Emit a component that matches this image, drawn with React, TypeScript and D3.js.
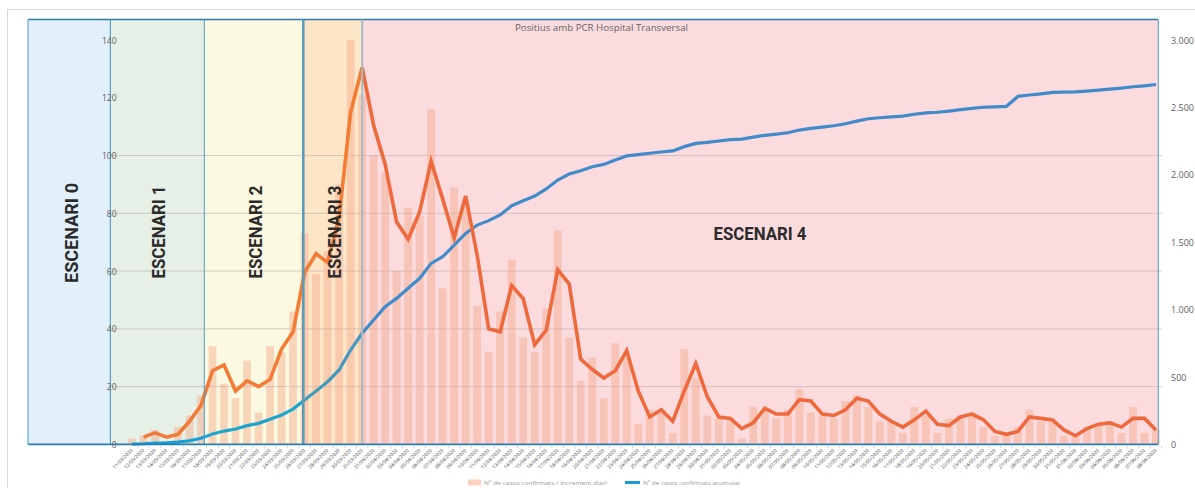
import React from "react";
import * as d3 from "d3";

// ---------- DATA ----------
const dateLabels: string[] = d3
  .timeDay.range(new Date(2020, 2, 11), new Date(2020, 5, 9))
  .map(d3.timeFormat("%d/%m/%Y"));

// Nº de casos confirmats / increment diari (bars, left axis)
const daily: number[] = [
  2, 3, 5, 1, 6, 10, 17, 34, 21, 16,
  29, 11, 34, 32, 46, 73, 59, 67, 90, 140,
  121, 100, 94, 60, 82, 79, 116, 54, 89, 83,
  48, 32, 46, 64, 37, 32, 47, 74, 37, 22,
  30, 16, 35, 30, 7, 12, 12, 4, 33, 23,
  10, 9, 9, 2, 13, 12, 9, 12, 19, 11,
  10, 9, 15, 17, 13, 8, 8, 4, 13, 10,
  4, 9, 10, 11, 6, 3, 4, 6, 12, 8,
  8, 3, 3, 6, 7, 8, 4, 13, 4, 5,
];

// 2-period moving-average trendline of the daily series (orange, left axis)
const trend: (number | null)[] = [
  null, 2.5, 4, 2.5, 3.5, 8, 13.5, 25.5, 27.5, 18.5,
  22, 20, 22.5, 33, 39, 59.5, 66, 63, 78.5, 115,
  130.5, 110.5, 97, 77, 71, 80.5, 98, 85, 71.5, 86,
  65.5, 40, 39, 55, 50.5, 34.5, 39.5, 60.5, 55.5, 29.5,
  26, 23, 25.5, 32.5, 18.5, 9.5, 12, 8, 18.5, 28,
  16.5, 9.5, 9, 5.5, 7.5, 12.5, 10.5, 10.5, 15.5, 15,
  10.5, 10, 12, 16, 15, 10.5, 8, 6, 8.5, 11.5,
  7, 6.5, 9.5, 10.5, 8.5, 4.5, 3.5, 4.5, 9.5, 9,
  8.5, 5, 3, 5.5, 7, 7.5, 6, 9, 9, 5,
];

// Nº de casos confirmats acumulat (blue line, right axis)
const cumulative: number[] = [
  2, 5, 10, 11, 17, 27, 45, 77, 99, 114,
  139, 156, 186, 218, 262, 330, 396, 465, 552, 700,
  824, 923, 1022, 1083, 1158, 1232, 1343, 1392, 1479, 1565,
  1627, 1660, 1702, 1771, 1808, 1842, 1895, 1961, 2006, 2030,
  2060, 2077, 2110, 2140, 2150, 2160, 2169, 2177, 2209, 2233,
  2241, 2251, 2261, 2265, 2280, 2293, 2302, 2312, 2332, 2344,
  2354, 2364, 2379, 2398, 2416, 2423, 2430, 2435, 2449, 2459,
  2464, 2473, 2483, 2493, 2501, 2504, 2508, 2582, 2592, 2601,
  2611, 2614, 2615, 2621, 2628, 2636, 2643, 2653, 2660, 2670,
];

const leftTicks: number[] = [0, 20, 40, 60, 80, 100, 120, 140];
const gridTicks: number[] = [20, 40, 60, 80, 100];
const rightTicks: number[] = [0, 500, 1000, 1500, 2000, 2500, 3000];

const scenarioNames: string[] = ["ESCENARI 0", "ESCENARI 1", "ESCENARI 2", "ESCENARI 3", "ESCENARI 4"];
const chartTitle = "Positius amb PCR Hospital Transversal";
const legendBars = "Nº de casos confirmats / increment diari";
const legendLine = "Nº de casos confirmats acumulat";

// ---------- LAYOUT ----------
const W = 1195;
const H = 488;
const PLOT_L = 110;
const PLOT_R = 1162;
const Y_TOP = 40;
const Y_BOT = 444.4;
const BOX_TOP = 19.5;
const boxEdges = [28, 110, 204, 303, 362, 1158];
const boxFills = ["#e1f0fa", "#e6f0e6", "#fbf9e1", "#fde6c7", "#fbdbdd"];
const labelPos = [
  { x: 71, y: 233, rot: true },
  { x: 158, y: 232, rot: true },
  { x: 255, y: 232, rot: true },
  { x: 334, y: 232, rot: true },
  { x: 760, y: 233, rot: false },
];

const fmtR = d3.formatLocale({ decimal: ",", thousands: ".", grouping: [3], currency: ["", "€"] }).format(",");

export default function App() {
  const x = d3.scalePoint<string>().domain(dateLabels).range([132, 1156]);
  const yL = d3.scaleLinear().domain([0, 140]).range([Y_BOT, Y_TOP]);
  const yR = d3.scaleLinear().domain([0, 3000]).range([Y_BOT, Y_TOP]);
  const step = x.step();
  const barW = 7.8;

  const trendLine = d3
    .line<number | null>()
    .defined((d) => d != null)
    .x((_, i) => x(dateLabels[i]) as number)
    .y((d) => yL(d as number));
  const cumLine = d3
    .line<number>()
    .x((_, i) => x(dateLabels[i]) as number)
    .y((d) => yR(d));

  const off = (px: number) => (px - PLOT_L) / (PLOT_R - PLOT_L);
  const font = "'Open Sans', 'Liberation Sans', Arial, sans-serif";

  return (
    <svg width={W} height={H} style={{ position: "absolute", left: 0, top: 0, background: "#fff" }} xmlns="http://www.w3.org/2000/svg">
      <defs>
        <linearGradient id="blueG" gradientUnits="userSpaceOnUse" x1={PLOT_L} x2={PLOT_R} y1={0} y2={0}>
          <stop offset={0} stopColor="#12a2d6" />
          <stop offset={off(204)} stopColor="#12a2d6" />
          <stop offset={off(204)} stopColor="#1ea5cf" />
          <stop offset={off(303)} stopColor="#1ea5cf" />
          <stop offset={off(303)} stopColor="#3f9dbb" />
          <stop offset={off(362)} stopColor="#4596c2" />
          <stop offset={off(362)} stopColor="#418bcb" />
          <stop offset={1} stopColor="#418bcb" />
        </linearGradient>
        <linearGradient id="orangeG" gradientUnits="userSpaceOnUse" x1={PLOT_L} x2={PLOT_R} y1={0} y2={0}>
          <stop offset={0} stopColor="#f27a3a" />
          <stop offset={off(362)} stopColor="#f47c32" />
          <stop offset={off(362)} stopColor="#ee6a3d" />
          <stop offset={1} stopColor="#ee6a3d" />
        </linearGradient>
      </defs>

      {/* outer chart frame */}
      <rect x={7.5} y={9.5} width={1250} height={600} fill="none" stroke="#d9d9d9" strokeWidth={1} />

      {/* scenario backgrounds */}
      {boxFills.map((f, i) => (
        <rect key={"bg" + i} x={boxEdges[i]} y={BOX_TOP} width={boxEdges[i + 1] - boxEdges[i]} height={Y_BOT - BOX_TOP} fill={f} />
      ))}

      {/* gridlines */}
      {gridTicks.map((t) => (
        <line key={"g" + t} x1={PLOT_L} x2={PLOT_R} y1={yL(t)} y2={yL(t)} stroke="#b8a8a8" strokeOpacity={0.55} strokeWidth={1} />
      ))}

      {/* bars */}
      {daily.map((v, i) => (
        <rect
          key={"b" + i}
          x={(x(dateLabels[i]) as number) - barW / 2}
          y={yL(v)}
          width={barW}
          height={Y_BOT - yL(v)}
          fill="#f5a98a"
          fillOpacity={0.45}
        />
      ))}

      {/* lines */}
      <path d={cumLine(cumulative) || ""} fill="none" stroke="url(#blueG)" strokeWidth={3.2} />
      <path d={trendLine(trend) || ""} fill="none" stroke="url(#orangeG)" strokeWidth={3.6} />

      {/* box borders */}
      <line x1={boxEdges[0]} x2={boxEdges[5]} y1={BOX_TOP} y2={BOX_TOP} stroke="#2f7aa5" strokeWidth={1.4} />
      <line x1={28} x2={28} y1={BOX_TOP} y2={Y_BOT} stroke="#4a9bc9" strokeWidth={1} />
      <line x1={110.3} x2={110.3} y1={BOX_TOP} y2={Y_BOT} stroke="#3f90c2" strokeWidth={1} />
      <line x1={204.3} x2={204.3} y1={BOX_TOP} y2={Y_BOT} stroke="#4a9bc9" strokeWidth={1} />
      <line x1={303.3} x2={303.3} y1={BOX_TOP} y2={Y_BOT} stroke="#5d9cb8" strokeWidth={2.6} />
      <line x1={362.2} x2={362.2} y1={BOX_TOP} y2={Y_BOT} stroke="#a3bccc" strokeWidth={2} />
      <line x1={1158.3} x2={1158.3} y1={BOX_TOP} y2={Y_BOT} stroke="#4a9bc9" strokeWidth={1} />

      {/* x axis */}
      <line x1={28} x2={1158.3} y1={Y_BOT} y2={Y_BOT} stroke="#2a7db2" strokeWidth={1.6} />
      {dateLabels.map((d, i) => (
        <line
          key={"t" + i}
          x1={(x(d) as number) + step / 2}
          x2={(x(d) as number) + step / 2}
          y1={Y_BOT + 1}
          y2={Y_BOT + 4}
          stroke="#c8c8c8"
          strokeWidth={0.8}
        />
      ))}
      {dateLabels.map((d) => (
        <text
          key={"xl" + d}
          transform={`translate(${(x(d) as number) + 1},${Y_BOT + 6.5}) rotate(-45)`}
          textAnchor="end"
          fontSize={4.9}
          fill="#404040"
          fontFamily={font}
        >
          {d}
        </text>
      ))}

      {/* scenario labels */}
      {scenarioNames.map((s, i) => {
        const p = labelPos[i];
        return (
          <text
            key={s}
            transform={p.rot ? `translate(${p.x},${p.y}) rotate(-90)` : `translate(${p.x},${p.y})`}
            textAnchor="middle"
            dominantBaseline="central"
            fontSize={19}
            fontWeight="bold"
            fill="#2b2b2b"
            fontFamily="Roboto, 'Liberation Sans', Arial, sans-serif"
            textLength={i === 0 ? 100 : 93}
            lengthAdjust="spacingAndGlyphs"
          >
            {s}
          </text>
        );
      })}

      {/* left axis labels */}
      {leftTicks.map((t) => (
        <text key={"yl" + t} x={116.5} y={yL(t)} textAnchor="end" dominantBaseline="central" fontSize={8.5} fill="#606060" fontFamily={font}>
          {t}
        </text>
      ))}
      {/* right axis labels */}
      {rightTicks.map((t) => (
        <text key={"yr" + t} x={1171} y={yR(t)} textAnchor="start" dominantBaseline="central" fontSize={9} fill="#606060" fontFamily={font}>
          {fmtR(t)}
        </text>
      ))}

      {/* title */}
      <text x={601.5} y={27.5} textAnchor="middle" dominantBaseline="central" fontSize={9} fill="#666" fontFamily={font} textLength={173} lengthAdjust="spacingAndGlyphs">
        {chartTitle}
      </text>

      {/* legend */}
      <rect x={468} y={479.5} width={13} height={6} fill="#fbd3bf" />
      <text x={484} y={482.5} dominantBaseline="central" fontSize={6} fill="#9a9a9a" fontFamily={font} textLength={123} lengthAdjust="spacingAndGlyphs">
        {legendBars}
      </text>
      <line x1={625} x2={640} y1={482.5} y2={482.5} stroke="#1a9bd6" strokeWidth={3} />
      <text x={643} y={482.5} dominantBaseline="central" fontSize={6} fill="#9a9a9a" fontFamily={font} textLength={97} lengthAdjust="spacingAndGlyphs">
        {legendLine}
      </text>
    </svg>
  );
}
